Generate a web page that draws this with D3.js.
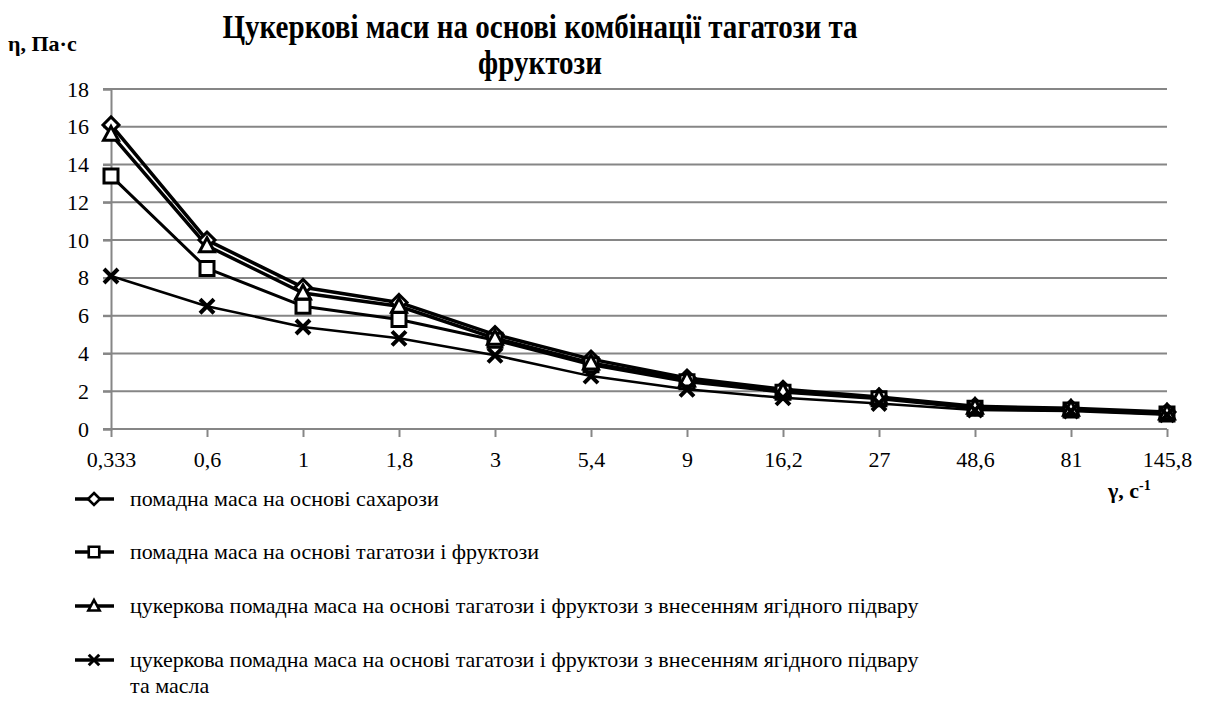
<!DOCTYPE html>
<html>
<head>
<meta charset="utf-8">
<script src="https://cdn.jsdelivr.net/npm/d3@7"></script>
</head>
<body style="margin:0">
<div id="chart"></div>
<script>
// shear rate categories (x axis)
var categories = ["0,333", "0,6", "1", "1,8", "3", "5,4", "9", "16,2", "27", "48,6", "81", "145,8"];

// viscosity values, Pa·s
var sucrose  = [16.1, 10.0, 7.5, 6.7, 5.0, 3.7, 2.7, 2.1, 1.7, 1.2, 1.1, 0.9];
var tagatose = [13.4, 8.5, 6.5, 5.8, 4.7, 3.4, 2.5, 1.95, 1.6, 1.1, 1.0, 0.8];
var berry    = [15.6, 9.7, 7.2, 6.5, 4.8, 3.5, 2.6, 2.0, 1.65, 1.15, 1.05, 0.85];
var berryOil = [8.1, 6.5, 5.4, 4.8, 3.9, 2.8, 2.1, 1.65, 1.35, 1.0, 0.95, 0.75];

var yTicks = [0, 2, 4, 6, 8, 10, 12, 14, 16, 18];

var seriesNames = [
    "помадна маса на основі сахарози",
    "помадна маса на основі тагатози і фруктози",
    "цукеркова помадна маса на основі тагатози і фруктози  з внесенням ягідного підвару",
    "цукеркова помадна маса на основі тагатози і фруктози  з внесенням ягідного підвару"
];

var series = [
    { name: seriesNames[0], values: sucrose,  marker: "diamond",  lw: 3.5 },
    { name: seriesNames[1], values: tagatose, marker: "square",   lw: 3 },
    { name: seriesNames[2], values: berry,    marker: "triangle", lw: 3.5 },
    { name: seriesNames[3], values: berryOil, marker: "cross",    lw: 2.5 }
];

var FONT = "'Liberation Serif'";

var W = 1213, H = 713;
var plotLeft = 111, plotRight = 1167, plotTop = 89, plotBottom = 429;

var svg = d3.select("#chart").append("svg")
    .attr("width", W)
    .attr("height", H)
    .style("display", "block");

var x = d3.scalePoint().domain(categories).range([plotLeft, plotRight]);
var y = d3.scaleLinear().domain([0, 18]).range([plotBottom, plotTop]);

var grey = "#868686";

// gridlines
svg.append("g")
    .selectAll("line")
    .data(yTicks)
    .enter().append("line")
    .attr("x1", plotLeft - 8)
    .attr("x2", plotRight)
    .attr("y1", function(d) { return y(d); })
    .attr("y2", function(d) { return y(d); })
    .attr("stroke", grey)
    .attr("stroke-width", 2);

// y axis
var yAxis = svg.append("g")
    .attr("transform", "translate(" + plotLeft + ",0)")
    .call(d3.axisLeft(y).tickValues(yTicks).tickSize(8).tickPadding(14));
yAxis.attr("font-family", null).attr("font-size", null);
yAxis.select(".domain").attr("stroke", grey).attr("stroke-width", 2);
yAxis.selectAll(".tick line").attr("stroke", grey).attr("stroke-width", 2);
yAxis.selectAll("text")
    .style("font-family", FONT)
    .style("font-size", "22px")
    .attr("fill", "#000");

// x axis
var xAxis = svg.append("g")
    .attr("transform", "translate(0," + plotBottom + ")")
    .call(d3.axisBottom(x).tickSize(8).tickPadding(14));
xAxis.attr("font-family", null).attr("font-size", null);
xAxis.select(".domain").attr("d", "M" + plotLeft + ",0H" + plotRight).attr("stroke", grey).attr("stroke-width", 2);
xAxis.selectAll(".tick line").attr("stroke", grey).attr("stroke-width", 2);
xAxis.selectAll("text")
    .style("font-family", FONT)
    .style("font-size", "22px")
    .attr("fill", "#000");

// marker shapes
function markerPath(type) {
    if (type === "diamond") return "M0,-8L8,0L0,8L-8,0Z";
    if (type === "square") return "M-7,-7H7V7H-7Z";
    if (type === "triangle") return "M0,-8L7.5,6H-7.5Z";
    return "M-7,-7L7,7M7,-7L-7,7";
}

var line = d3.line()
    .x(function(d, i) { return x(categories[i]); })
    .y(function(d) { return y(d); });

series.forEach(function(s) {
    svg.append("path")
        .datum(s.values)
        .attr("fill", "none")
        .attr("stroke", "#000")
        .attr("stroke-width", s.lw)
        .attr("stroke-linejoin", "round")
        .attr("d", line);
});

series.forEach(function(s) {
    svg.append("g")
        .selectAll("path")
        .data(s.values)
        .enter().append("path")
        .attr("transform", function(d, i) { return "translate(" + x(categories[i]) + "," + y(d) + ")"; })
        .attr("d", markerPath(s.marker))
        .attr("fill", s.marker === "cross" ? "none" : "#fff")
        .attr("stroke", "#000")
        .attr("stroke-width", s.marker === "cross" ? 4 : 3);
});

// title (condensed by a horizontal scale instead of textLength)
svg.append("text")
    .attr("transform", "translate(540,38) scale(0.88,1)")
    .attr("text-anchor", "middle")
    .style("font-family", FONT)
    .style("font-size", "33px")
    .style("font-weight", "bold")
    .text("Цукеркові маси на основі комбінації тагатози та");
svg.append("text")
    .attr("transform", "translate(540,74) scale(0.88,1)")
    .attr("text-anchor", "middle")
    .style("font-family", FONT)
    .style("font-size", "33px")
    .style("font-weight", "bold")
    .text("фруктози");

// axis titles
svg.append("text")
    .attr("x", 8).attr("y", 51)
    .style("font-family", FONT)
    .style("font-size", "22px")
    .style("font-weight", "bold")
    .text("η, Па·с");

var xl = svg.append("text")
    .attr("x", 1108).attr("y", 498)
    .style("font-family", FONT)
    .style("font-size", "22px")
    .style("font-weight", "bold");
xl.append("tspan").text("γ, с");
xl.append("tspan").attr("dy", -8).style("font-size", "14px").text("-1");

// legend
var legendY = [499, 552, 606, 660];
series.forEach(function(s, i) {
    var g = svg.append("g").attr("transform", "translate(0," + legendY[i] + ")");
    g.append("line")
        .attr("x1", 75).attr("x2", 114)
        .attr("stroke", "#000").attr("stroke-width", 3.5);
    g.append("path")
        .attr("transform", "translate(94,0) scale(0.75)")
        .attr("d", markerPath(s.marker))
        .attr("fill", s.marker === "cross" ? "none" : "#fff")
        .attr("stroke", "#000")
        .attr("stroke-width", s.marker === "cross" ? 4 : 3.5);
    g.append("text")
        .attr("x", 130).attr("y", 7)
        .style("font-family", FONT)
        .style("font-size", "22px")
        .text(s.name);
});
svg.append("text")
    .attr("x", 130).attr("y", 693)
    .style("font-family", FONT)
    .style("font-size", "22px")
    .text("та масла");
</script>
</body>
</html>
